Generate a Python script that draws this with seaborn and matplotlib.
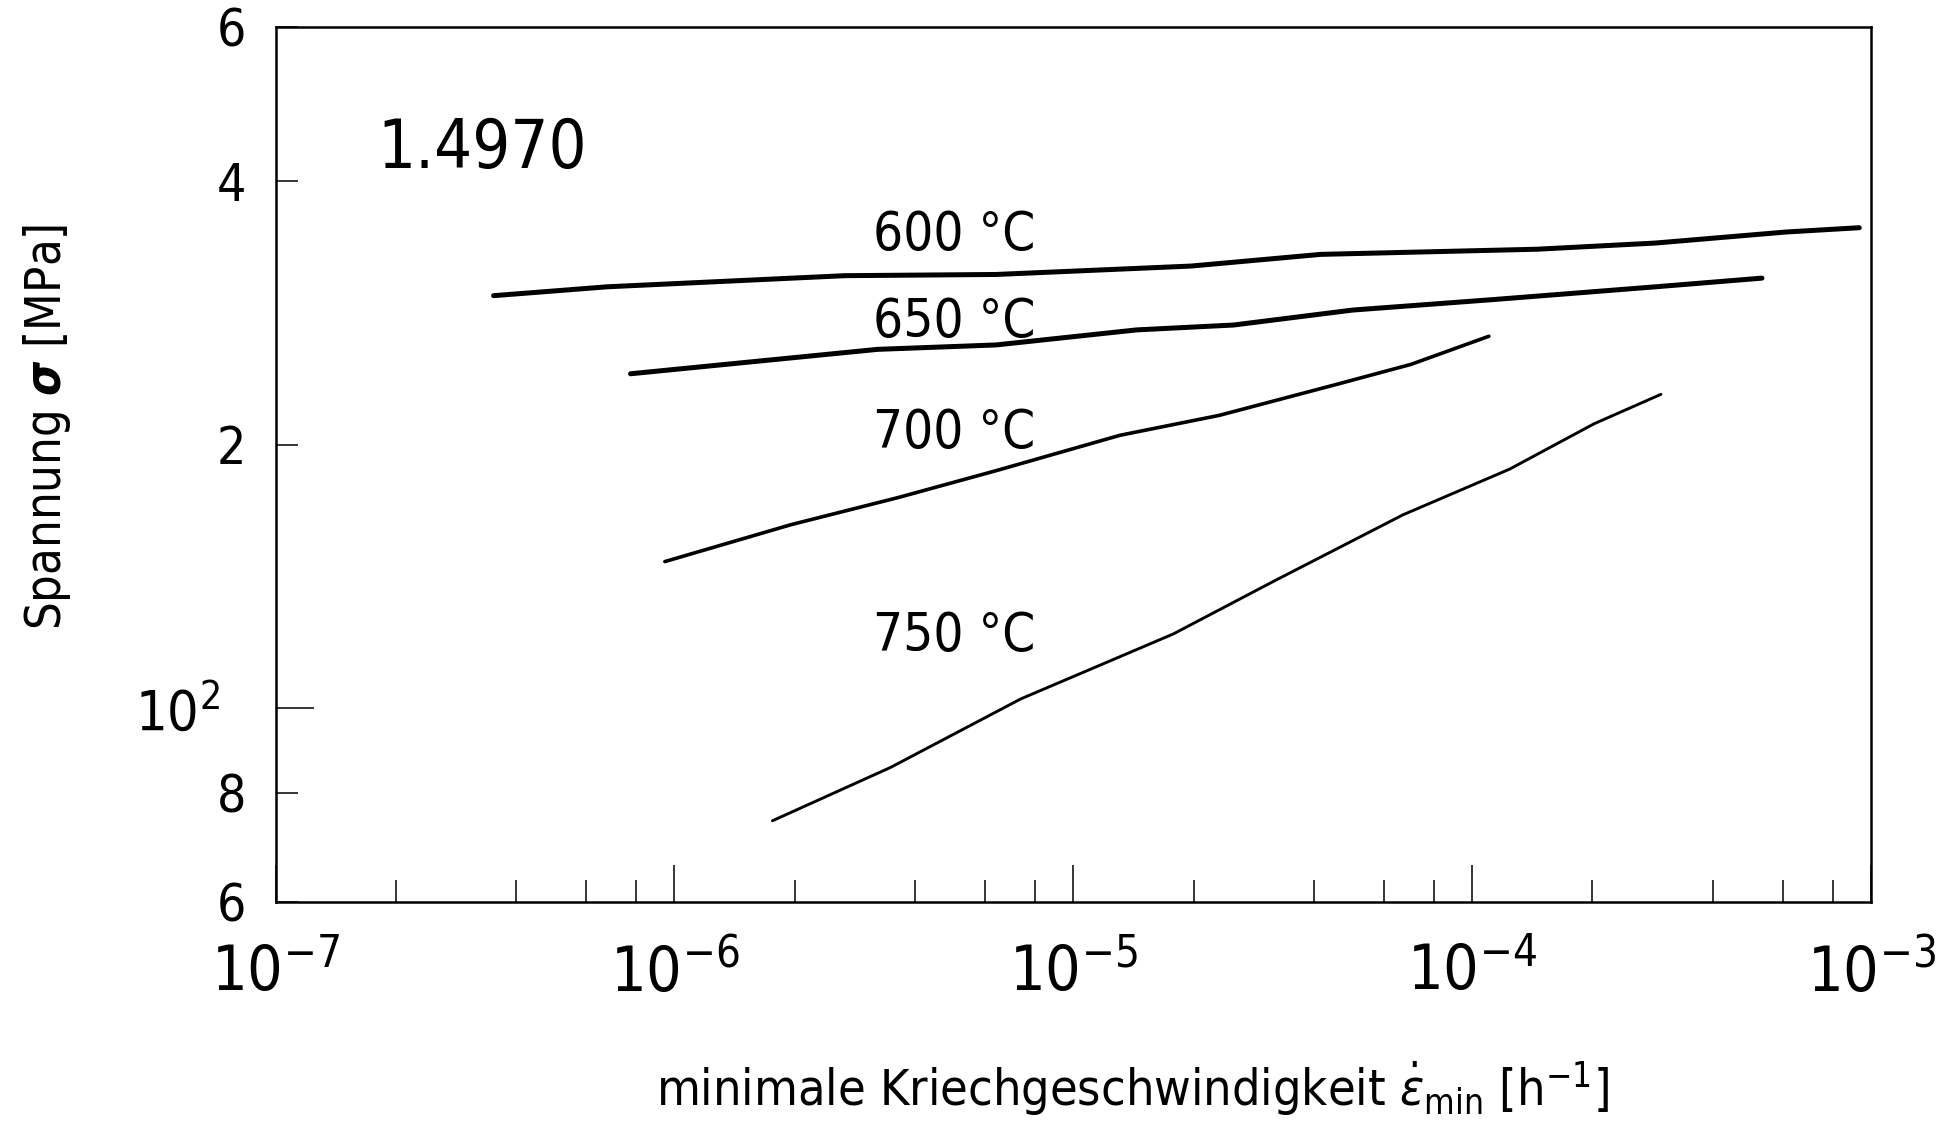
import matplotlib
matplotlib.use("Agg")
import matplotlib.pyplot as plt
from matplotlib import font_manager
from matplotlib.ticker import FixedLocator, NullFormatter
import pandas as pd
import seaborn as sns

# Minimum creep rate [1/h] and stress [MPa] along each isotherm, steel 1.4970
rate_600 = [3.52e-7, 6.78e-7, 2.67e-6, 6.40e-6, 1.97e-5, 4.17e-5, 1.45e-4, 2.88e-4, 6.11e-4, 9.33e-4]
stress_600 = [296, 303, 312, 313, 320, 330, 334.5, 340, 350, 354]

rate_650 = [7.76e-7, 3.23e-6, 6.40e-6, 1.44e-5, 2.52e-5, 5.01e-5, 1.13e-4, 2.88e-4, 5.32e-4]
stress_650 = [241, 257, 260, 270.5, 274, 285, 293, 303, 310]

rate_700 = [9.46e-7, 1.96e-6, 3.64e-6, 6.47e-6, 1.31e-5, 2.32e-5, 4.51e-5, 7.01e-5, 1.10e-4]
stress_700 = [147, 162, 174, 187, 205, 216, 234, 247, 266]

rate_750 = [1.76e-6, 3.48e-6, 7.38e-6, 1.78e-5, 3.17e-5, 6.71e-5, 1.24e-4, 2.02e-4, 2.97e-4]
stress_750 = [74.3, 85.5, 102.4, 121.5, 139.5, 166.3, 187.5, 211.3, 228.3]

temperatures = ["600 °C", "650 °C", "700 °C", "750 °C"]

# where each temperature tag sits (rate, stress at the text baseline)
tag_rate = [3.15e-6, 3.15e-6, 3.15e-6, 3.15e-6]
tag_stress = [334, 265.6, 198.3, 116.2]

x_major = [1e-7, 1e-6, 1e-5, 1e-4, 1e-3]
x_major_labels = [r"$10^{-7}$", r"$10^{-6}$", r"$10^{-5}$", r"$10^{-4}$", r"$10^{-3}$"]
x_minor = [m * 10.0 ** e for e in range(-7, -3) for m in (2, 4, 6, 8)]
y_major = [100]
y_major_labels = [r"$10^{2}$"]
y_minor = [60, 80, 200, 400, 600]
y_minor_labels = ["6", "8", "2", "4", "6"]

material = "1.4970"

# ---------------------------------------------------------------- style
sns.set_style("ticks")
fonts = font_manager.fontManager.ttflist
names = {f.name for f in fonts}
stretch = "normal"
if "Liberation Sans Narrow" in names:
    family = "Liberation Sans Narrow"
elif any(f.name == "DejaVu Sans" and f.stretch in ("condensed", "semi-condensed")
         for f in fonts):
    family, stretch = "DejaVu Sans", "condensed"
elif "Liberation Sans" in names:
    family = "Liberation Sans"
else:
    family = "DejaVu Sans"

plt.rcParams.update({
    "font.family": [family, "DejaVu Sans"],
    "font.stretch": stretch,
    "mathtext.fontset": "custom",
    "mathtext.rm": family,
    "mathtext.sf": family,
    "mathtext.it": family + ":italic",
    "mathtext.bf": family + ":bold",
    "axes.edgecolor": "black",
    "axes.labelcolor": "black",
    "text.color": "black",
})

df = pd.concat([
    pd.DataFrame({"rate": r, "stress": s, "T": t})
    for r, s, t in zip([rate_600, rate_650, rate_700, rate_750],
                       [stress_600, stress_650, stress_700, stress_750],
                       temperatures)
], ignore_index=True)

fig = plt.figure(figsize=(19.46, 11.36), dpi=100)
ax = fig.add_axes([0.1416, 0.206, 0.820, 0.770])

sns.lineplot(
    data=df, x="rate", y="stress", hue="T", size="T",
    palette={t: "black" for t in temperatures},
    sizes={"600 °C": 3.6, "650 °C": 3.6, "700 °C": 2.6, "750 °C": 2.1},
    estimator=None, sort=False, legend=False, ax=ax,
)

ax.set_xscale("log")
ax.set_yscale("log")
ax.set_xlim(1e-7, 1e-3)
ax.set_ylim(60, 600)

ax.xaxis.set_major_locator(FixedLocator(x_major))
ax.set_xticklabels(x_major_labels)
ax.xaxis.set_minor_locator(FixedLocator(x_minor))
ax.xaxis.set_minor_formatter(NullFormatter())
ax.set_yticks(y_major, labels=y_major_labels)
ax.set_yticks(y_minor, labels=y_minor_labels, minor=True)

ax.tick_params(which="both", direction="in", top=False, right=False,
               width=1.1, color="black", labelcolor="black")
ax.tick_params(axis="x", which="major", length=27, pad=28, labelsize=45)
ax.tick_params(axis="x", which="minor", length=16)
ax.tick_params(axis="y", which="major", length=27, pad=40, labelsize=40)
ax.tick_params(axis="y", which="minor", length=16, pad=21, labelsize=37)

for sp in ax.spines.values():
    sp.set_visible(True)
    sp.set_linewidth(1.8)
    sp.set_color("black")

ax.set_xlabel(r"minimale Kriechgeschwindigkeit $\dot{\varepsilon}_{\mathrm{min}}$ [h$^{-1}$]",
              fontsize=36, color="black")
ax.xaxis.set_label_coords(0.537, -0.18)
ax.set_ylabel(r"Spannung $\boldsymbol{\sigma}$ [MPa]", fontsize=35, color="black")
ax.yaxis.set_label_coords(-0.127, 0.543)

for t, xr, ys in zip(temperatures, tag_rate, tag_stress):
    ax.text(xr, ys, t, fontsize=38, ha="left", va="baseline", color="black")

ax.text(0.0636, 0.839, material, transform=ax.transAxes, fontsize=48,
        ha="left", va="baseline", color="black")

fig.savefig("out.png", dpi=100, facecolor="white")
